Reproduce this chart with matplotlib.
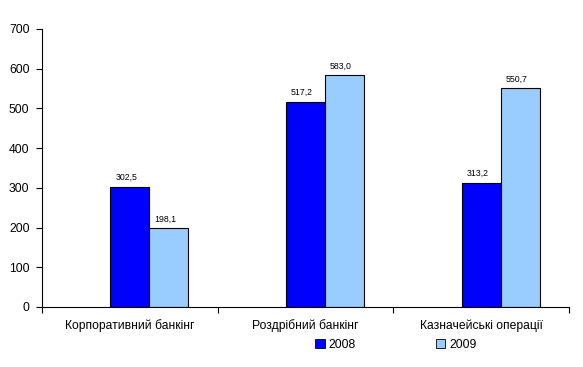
import numpy as np
from matplotlib import pyplot as plt
from matplotlib.patches import Patch

plt.rcParams['font.family'] = ['Liberation Sans', 'DejaVu Sans']

categories = ['Корпоративний банкінг', 'Роздрібний банкінг', 'Казначейські операції']
years = ['2008', '2009']
values_2008 = [302.5, 517.2, 313.2]
values_2009 = [198.1, 583.0, 550.7]
colors = ['#0000FF', '#99CCFF']

fig = plt.figure(figsize=(5.83, 3.67), dpi=100)
ax = fig.add_axes([0.072, 0.1635, 0.904, 0.7575])

x = np.arange(len(categories))
w = 0.222
series = [values_2008, values_2009]
for k, vals in enumerate(series):
    pos = x + k * w
    ax.bar(pos, vals, width=w, color=colors[k], edgecolor='black', linewidth=0.8)
    for p, v in zip(pos, vals):
        ax.text(p - 0.02, v + 12, f'{v:.1f}'.replace('.', ','), ha='center', va='bottom', fontsize=6.3)

ax.set_xlim(-0.5, 2.5)
ax.set_ylim(0, 700)
ax.set_yticks(np.arange(0, 701, 100))
ax.set_xticks(np.arange(-0.5, 2.6, 1))
ax.set_xticklabels([])
ax.set_xticks(x, minor=True)
ax.set_xticklabels(categories, minor=True)
ax.tick_params(axis='x', which='minor', length=0, pad=9, labelsize=8.7)
ax.tick_params(axis='x', which='major', length=4, direction='out', width=0.8)
ax.tick_params(axis='y', length=4, direction='out', labelsize=8.7, width=0.8, pad=5)
for s in ['top', 'right']:
    ax.spines[s].set_visible(False)

handles = [Patch(facecolor=colors[i], edgecolor='black', linewidth=0.6) for i in range(2)]
fig.legend(handles, years, loc='center', bbox_to_anchor=(0.679, 0.06), ncol=2,
           frameon=False, fontsize=8.7, handlelength=0.8, handleheight=0.8,
           handletextpad=0.3, columnspacing=6.6)

fig.savefig('out.png', dpi=100)
